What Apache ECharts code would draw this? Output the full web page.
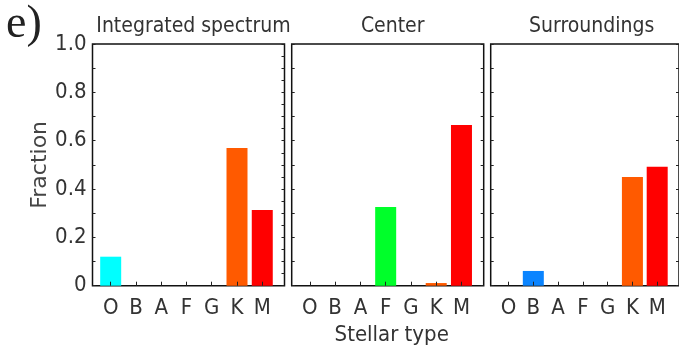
<!DOCTYPE html>
<html>
<head>
<meta charset="utf-8">
<script src="https://cdn.jsdelivr.net/npm/echarts@6/dist/echarts.min.js"></script>
<style>html,body{margin:0;padding:0;background:#fff}#c{width:679px;height:352px}</style>
</head>
<body>
<div id="c"></div>
<script>
const categories = ['O','B','A','F','G','K','M'];
const barColors = ['#00ffff','#0a84ff','#ffff00','#00ff2a','#ffaa00','#ff5a00','#ff0000'];
const panelTitles = ['Integrated spectrum','Center','Surroundings'];
const integratedValues = [0.12, 0, 0, 0, 0, 0.57, 0.313];
const centerValues = [0, 0, 0, 0.326, 0, 0.011, 0.665];
const surroundValues = [0, 0.061, 0, 0, 0, 0.45, 0.492];
const yTickValues = [0, 0.2, 0.4, 0.6, 0.8, 1.0];
const panelValues = [integratedValues, centerValues, surroundValues];

const NARROW = "'DejaVu Sans Condensed','Liberation Sans Narrow',sans-serif";
const TXT = '#333';
const panelLeft = [92.5, 291.7, 490.7];
const panelW = 192;
const gridTop = 44;
const gridH = 241.7;

const grids = [], xAxes = [], yAxes = [], series = [], titles = [];
panelLeft.forEach((L, p) => {
  grids.push({left: L, top: gridTop, width: panelW, height: gridH, show: true,
    borderColor: '#111', borderWidth: 1.5, backgroundColor: 'transparent', containLabel: false});
  xAxes.push({
    type: 'value', gridIndex: p, min: -0.72, max: 6.88, position: 'bottom', z: 10,
    axisLine: {show: false, onZero: false}, splitLine: {show: false},
    axisTick: {show: true, inside: true, length: 4, customValues: categories.map((c, i) => i),
      lineStyle: {color: '#222', width: 1}},
    axisLabel: {show: true, customValues: categories.map((c, i) => i), margin: 12,
      formatter: v => categories[Math.round(v)], color: TXT, fontFamily: NARROW, fontSize: 22},
    name: p === 1 ? 'Stellar type' : '', nameLocation: 'middle', nameGap: 34,
    nameTextStyle: {color: TXT, fontFamily: NARROW, fontSize: 22, padding: [0, 0, 0, 8]}
  });
  yAxes.push({
    type: 'value', gridIndex: p, min: 0, max: 1, interval: 0.2, position: 'left', z: 10,
    axisLine: {show: false, onZero: false}, splitLine: {show: false},
    axisTick: {show: true, inside: true, length: 3, lineStyle: {color: '#222'}},
    minorTick: {show: true, splitNumber: 2, length: 3, lineStyle: {color: '#222'}},
    axisLabel: {show: p === 0, margin: 6, color: TXT, fontFamily: NARROW, fontSize: 22,
      customValues: yTickValues,
      formatter: v => (v === 0 ? '0' : v.toFixed(1))},
    name: p === 0 ? 'Fraction' : '', nameLocation: 'middle', nameGap: 38, nameRotate: 90,
    nameTextStyle: {color: '#444', fontFamily: "'DejaVu Sans',sans-serif", fontSize: 22}
  });
  yAxes.push({
    type: 'value', gridIndex: p, min: 0, max: 1, interval: p === 0 ? 0.05 : 0.1, position: 'right', z: 10,
    axisLine: {show: false, onZero: false}, splitLine: {show: false},
    axisTick: {show: true, inside: true, length: 3, lineStyle: {color: '#222'}},
    axisLabel: {show: false}
  });
  series.push({
    type: 'bar', xAxisIndex: p, yAxisIndex: p * 2, barWidth: 21, z: 2,
    data: panelValues[p].map((v, i) => ({value: [i, v], itemStyle: {color: barColors[i]}}))
  });
  titles.push({text: panelTitles[p], left: L + panelW / 2, top: 11, textAlign: 'center',
    textStyle: {color: TXT, fontFamily: NARROW, fontSize: 21, fontWeight: 'normal'}});
});
titles.push({text: 'e)', left: 1, top: -3,
  textStyle: {color: '#222', fontFamily: "'Liberation Serif',serif", fontSize: 46, fontWeight: 'normal'}});

const chart = echarts.init(document.getElementById('c'), null, {renderer: 'canvas'});
chart.setOption({
  animation: false,
  backgroundColor: '#fff',
  title: titles,
  grid: grids,
  xAxis: xAxes,
  yAxis: yAxes,
  series: series
});
</script>
</body>
</html>
